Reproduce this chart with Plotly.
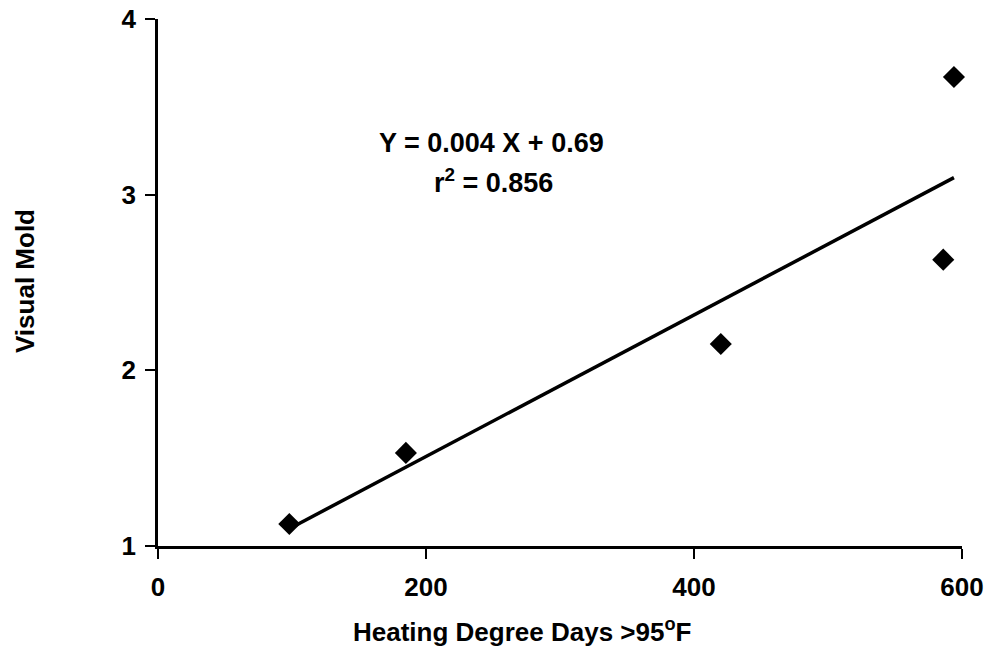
import numpy as np
import plotly.graph_objects as go

heating_degree_days = [98, 185, 420, 586, 594]
visual_mold = [1.125, 1.53, 2.15, 2.63, 3.67]
x_ticks = [0, 200, 400, 600]
y_ticks = [1, 2, 3, 4]
equation_text = "Y = 0.004 X + 0.69"
r2_text = "r<sup>2</sup> = 0.856"

slope, intercept = np.polyfit(heating_degree_days, visual_mold, 1)
fit_x = [min(heating_degree_days), max(heating_degree_days)]
fit_y = [slope * v + intercept for v in fit_x]

W, H = 989, 659
L, R, T, B = 158, 27, 19, 113
pw, ph = W - L - R, H - T - B

def px(x):
    return (x - L) / pw

def py(y):
    return (H - B - y) / ph

fig = go.Figure()
fig.add_trace(go.Scatter(x=fit_x, y=fit_y, mode="lines",
                         line=dict(color="black", width=3.5), showlegend=False,
                         cliponaxis=False))
fig.add_trace(go.Scatter(x=heating_degree_days, y=visual_mold, mode="markers",
                         marker=dict(symbol="diamond", size=17, color="black"),
                         showlegend=False, cliponaxis=False))

fam = "Liberation Sans, Arial, sans-serif"
tick_font = dict(family=fam, size=26, color="black", weight="bold")
title_font = dict(family=fam, size=26, color="black", weight="bold")
ann_font = dict(family=fam, size=27, color="black", weight="bold")

fig.update_layout(
    width=W, height=H,
    margin=dict(l=L, r=R, t=T, b=B, autoexpand=False),
    paper_bgcolor="white", plot_bgcolor="white",
    font=title_font,
    xaxis=dict(range=[0, 600], tickvals=x_ticks, showgrid=False, zeroline=False,
               showline=True, linecolor="black", linewidth=2.5, automargin=False,
               ticks="outside", ticklen=10, tickwidth=2, tickcolor="black",
               tickfont=tick_font, ticklabelstandoff=6),
    yaxis=dict(range=[1, 4], tickvals=y_ticks, showgrid=False, zeroline=False,
               showline=True, linecolor="black", linewidth=2.5, automargin=False,
               ticks="outside", ticklen=10, tickwidth=2, tickcolor="black",
               tickfont=tick_font, ticklabelstandoff=4),
    annotations=[
        dict(text=equation_text, x=px(491), y=py(143), xref="paper", yref="paper",
             showarrow=False, font=ann_font, xanchor="center", yanchor="middle"),
        dict(text=r2_text, x=px(493), y=py(181), xref="paper", yref="paper",
             showarrow=False, font=ann_font, xanchor="center", yanchor="middle"),
        dict(text="Heating Degree Days >95<sup>o</sup>F", x=px(522), y=py(630),
             xref="paper", yref="paper", showarrow=False, font=title_font,
             xanchor="center", yanchor="middle"),
        dict(text="Visual Mold", x=px(25), y=py(281), xref="paper", yref="paper",
             showarrow=False, font=title_font, textangle=-90,
             xanchor="center", yanchor="middle"),
    ],
)

fig.write_html("out.html")
